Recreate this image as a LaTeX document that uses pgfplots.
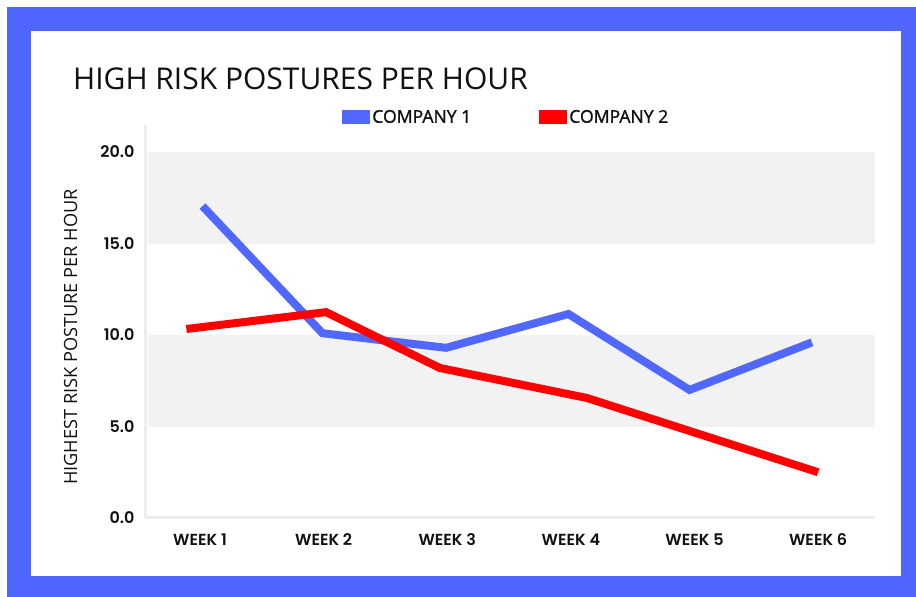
\documentclass[border=0pt]{standalone}
\usepackage{fontspec}
\usepackage{pgfplots}
\pgfplotsset{compat=1.18}
\newfontfamily\titlefont{Open Sans}
\newfontfamily\legfont{Open Sans}[FakeBold=1.3]
\newfontfamily\tickfont{Poppins SemiBold}
\definecolor{frameblue}{HTML}{4F66FF}
\definecolor{lineblue}{HTML}{5068FF}
\definecolor{linered}{HTML}{FF0000}
\definecolor{band}{HTML}{F2F2F2}
\definecolor{axisgray}{HTML}{EDEDED}
\definecolor{ink}{HTML}{111111}

\begin{document}
\begin{tikzpicture}
  % frame
  \fill[white] (0pt,0pt) rectangle (916pt,597pt);
  \fill[frameblue] (7pt,0pt) rectangle (916pt,590pt);
  \fill[white] (31pt,21pt) rectangle (901pt,566pt);

  \node[anchor=base west,text=ink,inner sep=0pt,
        font=\titlefont\fontsize{30}{30}\selectfont] at (73pt,507pt)
       {HIGH RISK POSTURES PER HOUR};
  \node[rotate=90,anchor=base,text=ink,inner sep=0pt,
        font=\titlefont\fontsize{18.2}{18.2}\selectfont] at (77pt,260pt)
       {HIGHEST RISK POSTURE PER HOUR};

  \begin{axis}[
    at={(145pt,79pt)}, anchor=south west,
    scale only axis, width=730pt, height=393pt,
    xmin=0.555, xmax=6.46, ymin=0, ymax=21.48,
    axis x line*=bottom, axis y line*=left,
    axis line style={draw=axisgray,line width=3pt},
    major tick length=0pt,
    xtick={1,2,3,4,5,6},
    xticklabels={WEEK 1,WEEK 2,WEEK 3,WEEK 4,WEEK 5,WEEK 6},
    ytick={0,5,10,15,20},
    /pgf/number format/.cd,fixed,fixed zerofill,precision=1,assume math mode=true,
    /pgfplots/.cd,
    ticklabel style={font=\tickfont\fontsize{16}{16}\selectfont,text=ink},
    xticklabel style={yshift=-12pt},
    yticklabel style={xshift=-7pt},
    legend style={at={(0.27,1.02)},anchor=west,draw=none,fill=none,
                  inner sep=0pt,legend columns=2,
                  font=\legfont\fontsize{17.6}{17.6}\selectfont,text=ink,
                  /tikz/every even column/.append style={column sep=66pt}},
    legend image code/.code={\fill[#1,draw=none] (0pt,-7pt) rectangle (28pt,7pt);},
    clip=false,
  ]
    \fill[band] (axis cs:0.58,5) rectangle (axis cs:6.46,10);
    \fill[band] (axis cs:0.58,15) rectangle (axis cs:6.46,20);

    \addplot[lineblue,line width=8pt]
      coordinates {(1.02,17.05) (1.99,10.1) (2.99,9.3) (3.98,11.15) (4.96,7.0) (5.95,9.6)};
    \addplot[linered,line width=8pt]
      coordinates {(0.89,10.33) (2.02,11.25) (2.94,8.2) (4.13,6.56) (5.0,4.67) (6.0,2.5)};
    \legend{COMPANY 1,COMPANY 2}
  \end{axis}
\end{tikzpicture}
\end{document}
